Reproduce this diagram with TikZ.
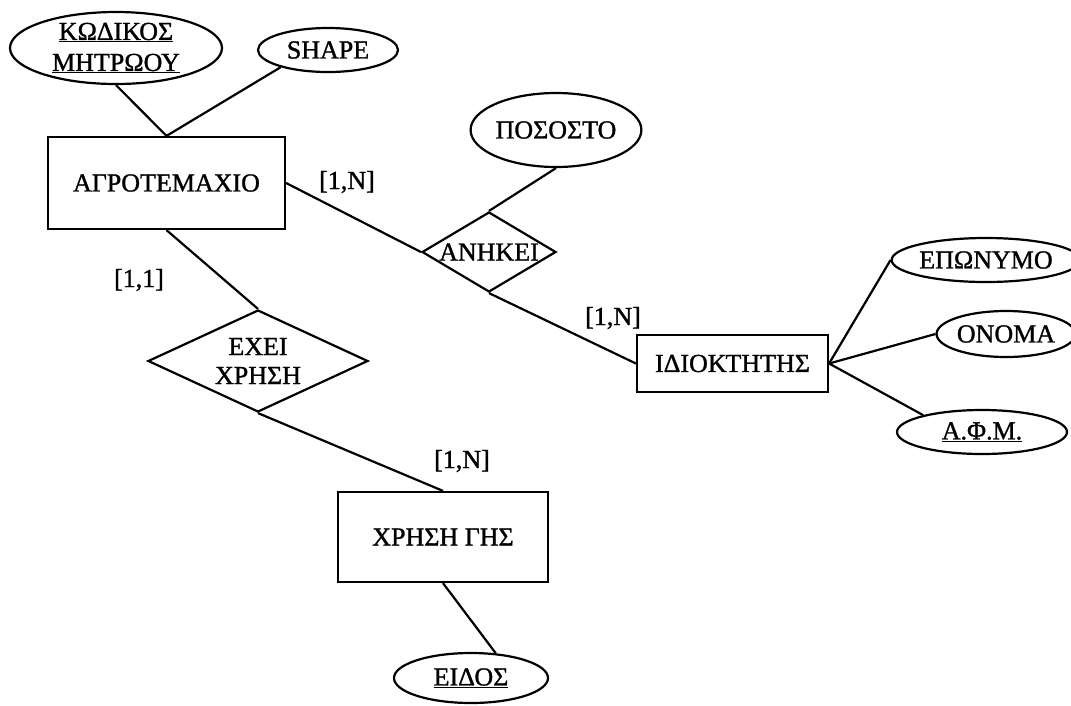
\documentclass[tikz,border=0pt]{standalone}
\usepackage{fontspec}
\setmainfont{Liberation Serif}[BoldFont=Liberation Serif,BoldFeatures={FakeBold=1.2}]
\usetikzlibrary{shapes.geometric}
\begin{document}
\begin{tikzpicture}[x=1pt,y=-1pt,
  every node/.style={font=\fontsize{26}{33}\selectfont\bfseries},
  conn/.style={line width=2.2pt},
  entity/.style={draw,line width=2.2pt,rectangle,inner sep=0pt},
  attr/.style={draw,line width=2.2pt,ellipse,inner sep=0pt},
  rel/.style={draw,line width=2.2pt,diamond,inner sep=0pt,align=center},
  card/.style={inner sep=0pt}]
\useasboundingbox (0,0) rectangle (1071,705);
% entities
\node[entity,minimum width=237pt,minimum height=92pt] (agro) at (166.5,183) {ΑΓΡΟΤΕΜΑΧΙΟ};
\node[entity,minimum width=191pt,minimum height=57pt] (idio) at (732.5,363.5) {ΙΔΙΟΚΤΗΤΗΣ};
\node[entity,minimum width=210pt,minimum height=90pt] (xrisi) at (443,537) {ΧΡΗΣΗ ΓΗΣ};
% attributes
\node[attr,minimum width=212pt,minimum height=72pt,align=center] (kod) at (116,48) {\underline{ΚΩΔΙΚΟΣ}\\[-2pt]\underline{ΜΗΤΡΩΟΥ}};
\node[attr,minimum width=140pt,minimum height=44pt] (shp) at (328,50) {SHAPE};
\node[attr,minimum width=162pt,minimum height=74pt] (pos) at (556,130) {ΠΟΣΟΣΤΟ};
\node[attr,minimum width=158pt,minimum height=44pt] (epo) at (986,260) {ΕΠΩΝΥΜΟ};
\node[attr,minimum width=128pt,minimum height=46pt] (ono) at (1006,334) {ΟΝΟΜΑ};
\node[attr,minimum width=170pt,minimum height=44pt] (afm) at (982,432) {\underline{Α.Φ.Μ.}};
\node[attr,minimum width=154pt,minimum height=50pt] (eidos) at (471,678) {\underline{ΕΙΔΟΣ}};
% relationships
\node[rel,minimum width=134pt,minimum height=80pt,aspect=1.675] (anh) at (489,252) {ΑΝΗΚΕΙ};
\node[rel,minimum width=220pt,minimum height=102pt,aspect=2.15] (exei) at (258,361) {ΕΧΕΙ\\[-4pt]ΧΡΗΣΗ};
% connectors
\draw[conn] (kod.south) -- (agro.north);
\draw[conn] (shp.200) -- (agro.north);
\draw[conn] (agro.east) -- (anh.west);
\draw[conn] (pos.south) -- (anh.north);
\draw[conn] (anh.south) -- (idio.west);
\draw[conn] (idio.east) -- (epo.west);
\draw[conn] (idio.east) -- (ono.west);
\draw[conn] (idio.east) -- (afm.164);
\draw[conn] (agro.south) -- (exei.north);
\draw[conn] (exei.south) -- (xrisi.north);
\draw[conn] (xrisi.south) -- (eidos.45);
% cardinalities
\node[card] (c1) at (347,182) {[1,N]};
\node[card] (c2) at (613,318) {[1,N]};
\node[card] (c3) at (139,280) {[1,1]};
\node[card] (c4) at (462,461) {[1,N]};
\end{tikzpicture}
\end{document}
